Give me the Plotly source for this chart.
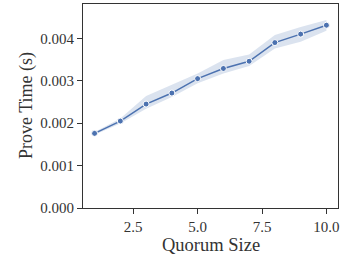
import plotly.graph_objects as go

quorum = [1, 2, 3, 4, 5, 6, 7, 8, 9, 10]
prove_time = [0.00176, 0.00205, 0.00245, 0.00271, 0.00305, 0.00329, 0.00346, 0.00390, 0.00410, 0.00431]
ci_low = [0.00173, 0.00199, 0.00234, 0.00262, 0.00294, 0.00317, 0.00335, 0.00376, 0.00392, 0.00418]
ci_high = [0.00179, 0.00211, 0.00264, 0.00290, 0.00317, 0.00349, 0.00362, 0.00408, 0.00427, 0.00443]
x_ticks = [2.5, 5.0, 7.5, 10.0]
y_ticks = [0.000, 0.001, 0.002, 0.003, 0.004]

blue = "#4c72b0"
axis_col = "#333333"
font_family = "Liberation Serif, DejaVu Serif, serif"

fig = go.Figure()
fig.add_trace(go.Scatter(
    x=quorum + quorum[::-1], y=ci_high + ci_low[::-1],
    fill="toself", fillcolor="rgba(76,114,176,0.2)", line=dict(width=0),
    hoverinfo="skip", showlegend=False, mode="lines"))
fig.add_trace(go.Scatter(
    x=quorum, y=prove_time, mode="lines+markers",
    line=dict(color=blue, width=1.5),
    marker=dict(color=blue, size=6, line=dict(color="white", width=1)),
    showlegend=False))

fig.update_layout(
    width=343, height=258,
    margin=dict(l=83, r=5, t=4, b=50),
    plot_bgcolor="white", paper_bgcolor="white",
    font=dict(family=font_family, size=15, color=axis_col),
    annotations=[
        dict(text="Quorum Size", xref="paper", yref="paper", x=0.5, y=0,
             xanchor="center", yanchor="middle", yshift=-37, showarrow=False,
             font=dict(size=18.5, color=axis_col)),
        dict(text="Prove Time (s)", xref="paper", yref="paper", x=0, y=0.5,
             xanchor="center", yanchor="middle", xshift=-57, textangle=-90,
             showarrow=False, font=dict(size=18, color=axis_col)),
    ],
)
fig.update_xaxes(
    range=[0.55, 10.45], tickvals=x_ticks, ticktext=[f"{v:.1f}" for v in x_ticks],
    showline=True, linecolor=axis_col, linewidth=1.25, mirror=True,
    ticks="outside", ticklen=5, tickcolor=axis_col, tickwidth=1.25,
    showgrid=False, zeroline=False, automargin=False,
    tickfont=dict(size=15),
)
fig.update_yaxes(
    range=[0, 0.00481], tickvals=y_ticks, ticktext=[f"{v:.3f}" for v in y_ticks],
    showline=True, linecolor=axis_col, linewidth=1.25, mirror=True,
    ticks="outside", ticklen=5, tickcolor=axis_col, tickwidth=1.25,
    showgrid=False, zeroline=False, automargin=False,
    tickfont=dict(size=15),
)

fig.write_html("out.html", config={"displayModeBar": False},
               post_script="document.body.style.margin='0';document.body.style.padding='0';")
